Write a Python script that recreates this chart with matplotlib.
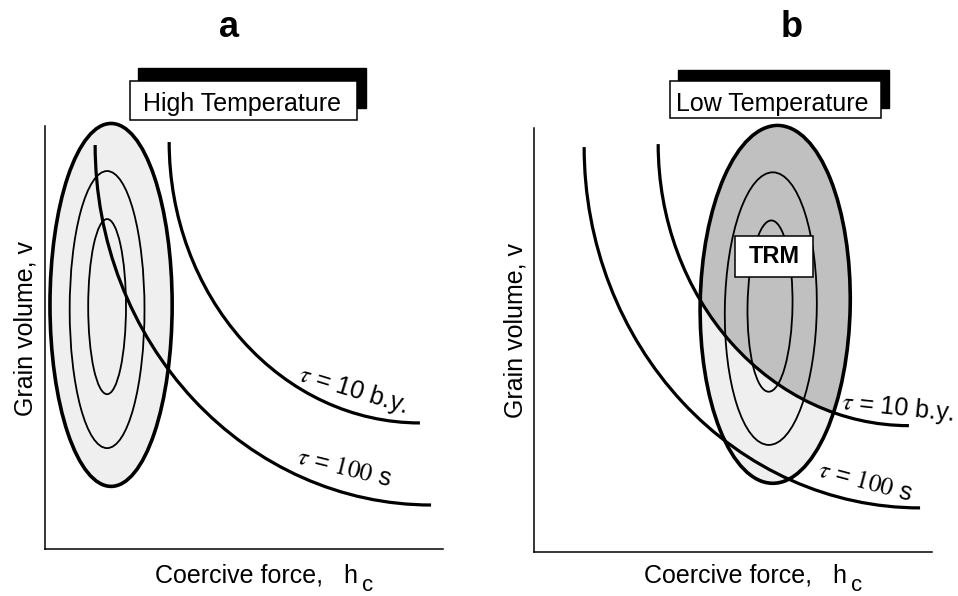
import matplotlib
matplotlib.use("Agg")
import matplotlib.pyplot as plt
from matplotlib.patches import Ellipse, Arc, Rectangle

plt.rcParams['font.family'] = ['Liberation Sans', 'DejaVu Sans']
plt.rcParams['mathtext.fontset'] = 'stix'

# ---------------- data (schematic units: 0..10 on both axes) ----------------
panel_titles = ['a', 'b']
temp_labels = ['High Temperature', 'Low Temperature']
x_label = 'Coercive force,   h'
x_label_sub = 'c'
y_label = 'Grain volume, v'

# relaxation-time contours (quarter ellipses, from top start to right end)
tau_labels = [r'$\tau$ = 10 b.y.', r'$\tau$ = $\mathit{100}$ s']
tau_hc_start = [3.12, 1.26]
tau_v_start = [9.62, 9.55]
tau_hc_end = [9.42, 9.70]
tau_v_end = [2.98, 1.04]

# grain distribution contours (outer, middle, inner)
dist_a_hc = [1.66, 1.56, 1.56]
dist_a_v = [5.77, 5.66, 5.73]
dist_a_w = [3.07, 1.88, 0.95]
dist_a_h = [8.58, 6.55, 4.14]

dist_b_hc = [6.06, 5.95, 5.93]
dist_b_v = [5.84, 5.74, 5.80]
dist_b_w = [3.77, 2.31, 1.13]
dist_b_h = [8.44, 6.43, 4.04]
dist_b_tilt = -1.0

trm_label = 'TRM'
trm_pos = (6.03, 6.97)

# label placement (data coords) and rotations for tau labels per panel
tau_lab_a = [(7.74, 3.76, -17), (7.51, 1.91, -14)]
tau_lab_b = [(9.15, 3.40, -6), (8.32, 1.65, -15)]

LIGHT = '#efefef'
DARK = '#c0c0c0'

W, H = 958, 596
fig = plt.figure(figsize=(W / 100, H / 100), dpi=100)


def fx(px):
    return px / W


def fy(py):
    return 1 - py / H


ax_a = fig.add_axes([fx(45), fy(549), 398 / W, 423 / H])
ax_b = fig.add_axes([fx(534), fy(552), 398 / W, 424 / H])

for ax in (ax_a, ax_b):
    ax.set_xlim(0, 10)
    ax.set_ylim(0, 10)
    ax.set_xticks([])
    ax.set_yticks([])
    for s in ('top', 'right'):
        ax.spines[s].set_visible(False)
    for s in ('left', 'bottom'):
        ax.spines[s].set_linewidth(1.1)
    ax.patch.set_alpha(0)


def draw_tau(ax, labels_pos):
    for i in range(len(tau_labels)):
        cx, cy = tau_hc_end[i], tau_v_start[i]
        a = tau_hc_end[i] - tau_hc_start[i]
        b = tau_v_start[i] - tau_v_end[i]
        ax.add_patch(Arc((cx, cy), 2 * a, 2 * b, theta1=180, theta2=270,
                         lw=2.3, color='black', zorder=5, clip_on=False))
        x, y, rot = labels_pos[i]
        ax.text(x, y, tau_labels[i], fontsize=18, rotation=rot,
                rotation_mode='anchor', ha='center', va='center', zorder=6)


# ---------- panel a ----------
outer = Ellipse((dist_a_hc[0], dist_a_v[0]), dist_a_w[0], dist_a_h[0],
                facecolor=LIGHT, edgecolor='none', zorder=1, clip_on=False)
ax_a.add_patch(outer)
for i in range(3):
    ax_a.add_patch(Ellipse((dist_a_hc[i], dist_a_v[i]), dist_a_w[i], dist_a_h[i],
                           facecolor='none', edgecolor='black',
                           lw=2.6 if i == 0 else 1.3, zorder=4, clip_on=False))
draw_tau(ax_a, tau_lab_a)

# ---------- panel b ----------
outer_b = Ellipse((dist_b_hc[0], dist_b_v[0]), dist_b_w[0], dist_b_h[0],
                  angle=dist_b_tilt, facecolor=LIGHT, edgecolor='none',
                  zorder=1, clip_on=False)
ax_b.add_patch(outer_b)
# region of grains with tau > 10 b.y. (above the 10 b.y. contour)
cx0, cy0 = tau_hc_end[0], tau_v_start[0]
stable = Ellipse((cx0, cy0), 2 * (tau_hc_end[0] - tau_hc_start[0]),
                 2 * (tau_v_start[0] - tau_v_end[0]),
                 facecolor=DARK, edgecolor='none', zorder=2)
ax_b.add_patch(stable)
stable.set_clip_path(outer_b)
for i in range(3):
    ax_b.add_patch(Ellipse((dist_b_hc[i], dist_b_v[i]), dist_b_w[i], dist_b_h[i],
                           angle=dist_b_tilt, facecolor='none', edgecolor='black',
                           lw=2.6 if i == 0 else 1.3, zorder=4, clip_on=False))
draw_tau(ax_b, tau_lab_b)

# TRM box
ax_b.add_patch(Rectangle((trm_pos[0] - 0.98, trm_pos[1] - 0.475), 1.96, 0.95,
                         facecolor='white', edgecolor='black', lw=1.1, zorder=7))
ax_b.text(trm_pos[0], trm_pos[1], trm_label, fontsize=17, fontweight='bold',
          ha='center', va='center', zorder=8)

# ---------- titles, temperature boxes, axis labels ----------
title_x = [229, 792]
for t, x in zip(panel_titles, title_x):
    fig.text(fx(x), fy(37), t, fontsize=26, fontweight='bold',
             ha='center', va='baseline')

# (white box x0, y0, x1, y1), (shadow x0, y0, x1, y1), text left
boxes = [((130, 81, 357, 120), (138, 68, 366, 108), 143),
         ((670, 81, 881, 118), (678, 70, 889, 108), 676)]
for lab, (wb, sb, tx) in zip(temp_labels, boxes):
    fig.patches.append(Rectangle((fx(sb[0]), fy(sb[3])), (sb[2] - sb[0]) / W,
                                 (sb[3] - sb[1]) / H, transform=fig.transFigure,
                                 facecolor='black', edgecolor='black', lw=1.0))
    fig.patches.append(Rectangle((fx(wb[0]), fy(wb[3])), (wb[2] - wb[0]) / W,
                                 (wb[3] - wb[1]) / H, transform=fig.transFigure,
                                 facecolor='white', edgecolor='black', lw=1.1))
    fig.text(fx(tx), fy(111), lab, fontsize=18, ha='left', va='baseline')

for x0 in (45, 534):
    fig.text(fx(x0 + 110), fy(582), x_label, fontsize=18, ha='left', va='baseline')
    fig.text(fx(x0 + 317), fy(591), x_label_sub, fontsize=16, ha='left', va='baseline')

for xb, yc in ((33, 328), (523, 330)):
    fig.text(fx(xb), fy(yc), y_label, fontsize=18, rotation=90,
             rotation_mode='anchor', ha='center', va='baseline')

fig.savefig('out.png', dpi=100)
